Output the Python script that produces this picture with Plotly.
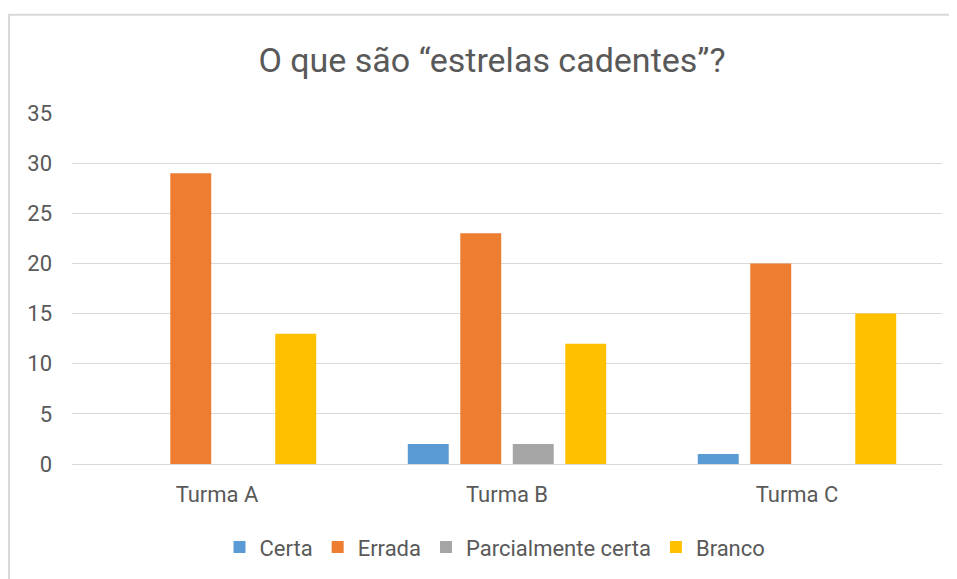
import plotly.graph_objects as go

categories = ["Turma A", "Turma B", "Turma C"]
series_names = ["Certa", "Errada", "Parcialmente certa", "Branco"]
certa = [0, 2, 1]
errada = [29, 23, 20]
parcial = [0, 2, 0]
branco = [13, 12, 15]
y_ticks = [0, 5, 10, 15, 20, 25, 30, 35]

colors = ["#5b9bd5", "#ed7d31", "#a5a5a5", "#ffc000"]
values = [certa, errada, parcial, branco]

FONT = "Roboto, sans-serif"
TXT = "#595959"

fig = go.Figure()
for name, vals, col in zip(series_names, values, colors):
    fig.add_trace(go.Bar(name=name, x=categories, y=vals, marker_color=col,
                         marker_line_width=0))

# page is offset by ~8px body margin; work in figure coordinates
W, H = 949, 572
L, R, T, B = 64, 15, 105, 113
pw, ph = W - L - R, H - T - B

def px(xp):
    return (xp - L) / pw

def py(yp):
    return (H - B - yp) / ph

fig.update_layout(
    width=W, height=H,
    margin=dict(l=L, r=R, t=T, b=B),
    paper_bgcolor="white", plot_bgcolor="white",
    barmode="group", bargap=0.276, bargroupgap=0.22,
    title=dict(text="O que são “estrelas cadentes”?", x=484 / W, xref="container",
               xanchor="center", y=1 - 52 / H, yref="container", yanchor="middle",
               font=dict(family=FONT, size=34, color=TXT)),
    font=dict(family=FONT, color=TXT, size=22),
    showlegend=True,
    legend=dict(orientation="h", x=px(487), xanchor="center", y=py(543),
                yanchor="middle", font=dict(size=22, color=TXT),
                traceorder="normal"),
    xaxis=dict(showgrid=False, showline=True, linecolor="#d9d9d9", linewidth=1,
               ticks="", tickfont=dict(size=22, color=TXT),
               ticklabelstandoff=11),
    yaxis=dict(range=[0, 35], tickvals=y_ticks, showgrid=True,
               gridcolor="#d9d9d9", gridwidth=1, zeroline=False,
               showline=False, ticks="", tickfont=dict(size=22, color=TXT),
               ticklabelstandoff=19),
    shapes=[dict(type="rect", xref="paper", yref="paper",
                 x0=px(1), x1=px(W + 20), y0=py(H + 20), y1=py(6),
                 line=dict(color="#d9d9d9", width=2), fillcolor="rgba(0,0,0,0)",
                 layer="below")],
)

fig.write_html("out.html")
